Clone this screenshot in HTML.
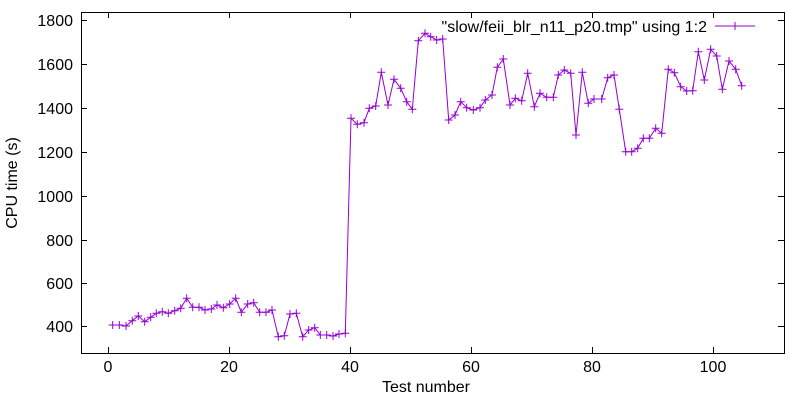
<!DOCTYPE html>
<html><head><meta charset="utf-8"><style>html,body{margin:0;padding:0;background:#fff}svg{display:block}</style></head>
<body>
<svg width="800" height="400" xmlns="http://www.w3.org/2000/svg" font-family="Liberation Sans, sans-serif" font-size="16">
<rect width="800" height="400" fill="#fff"/>
<g stroke="#000" stroke-width="1" fill="none">
<rect x="81.5" y="12.5" width="703" height="341"/>
<path d="M108.5,353v-6M108.5,12v6M229.5,353v-6M229.5,12v6M350.5,353v-6M350.5,12v6M471.5,353v-6M471.5,12v6M592.5,353v-6M592.5,12v6M713.5,353v-6M713.5,12v6"/>
<path d="M81,20.5h6M784,20.5h-6M81,64.5h6M784,64.5h-6M81,108.5h6M784,108.5h-6M81,152.5h6M784,152.5h-6M81,196.5h6M784,196.5h-6M81,240.5h6M784,240.5h-6M81,283.5h6M784,283.5h-6M81,326.5h6M784,326.5h-6"/>
</g>
<g text-anchor="middle" fill="#000">
<text x="108" y="372">0</text><text x="229" y="372">20</text><text x="350" y="372">40</text><text x="471" y="372">60</text><text x="592" y="372">80</text><text x="713" y="372">100</text>
<text x="426" y="392">Test number</text>
</g>
<g text-anchor="end" fill="#000">
<text x="73" y="26">1800</text><text x="73" y="70">1600</text><text x="73" y="114">1400</text><text x="73" y="158">1200</text><text x="73" y="202">1000</text><text x="73" y="246">800</text><text x="73" y="289">600</text><text x="73" y="332">400</text>
<text x="707" y="32">"slow/feii_blr_n11_p20.tmp" using 1:2</text>
</g>
<text transform="translate(17,183) rotate(-90)" text-anchor="middle" fill="#000">CPU time (s)</text>
<g stroke="#9400d3" stroke-width="1" fill="none">
<path d="M715,26h40M735,22v8M731,26h8"/>
<polyline id="d" points="112.7,325 119.3,325 126,326 132.3,320.7 138.3,316 144.7,321.7 150.7,317.3 156.3,313.3 162.3,311.7 168.3,313.3 174.7,310.7 180.7,308.3 186.7,298.3 192.7,307.3 199,307.3 205,310 211.3,309 217,305 223.3,307.7 229.7,304 235.7,298.3 241.3,312.3 247.7,304 253.7,302.7 259.7,312.3 266,312.3 272,310 278.3,336.7 284.3,335.7 290,314 296.3,313.3 302.7,336.7 308.7,330 314.7,327.7 320.3,335 326.7,335 333,336 339,334 345.3,333.3 351,118.3 357.3,124.3 364,122.7 369.3,108.3 375.7,106 381.3,72.3 388,105 394,79.3 400.7,88.3 406.7,101.7 412.3,109.3 418.3,40.7 425,33.3 430.7,36.7 436.7,40 442.7,39 448.7,120 455,115 460.7,101.7 466.7,107.7 473.3,110 480,107.7 485.3,100 492,95 497.3,67.3 503.3,59 510,105 515.3,98.3 521.7,100.7 527.7,73.3 534.3,106.7 540,93.3 546.7,97.3 553.3,97.3 558.3,75 564.3,70 570.7,73.3 576,135 582.3,72.3 588.3,103.3 594,99 601.7,99 607.7,77.7 614,75 619.3,109.3 625.7,151.7 631.7,151.7 637.7,148.3 643.3,138.3 649.3,138.3 655.7,128.3 661.7,133.3 668.3,69.3 674.3,72.7 680.7,86.7 686.7,91 692.7,90.7 698.3,51.7 704.3,80 710.7,49.3 716.7,56 722.3,89.3 729,61 735.7,69.3 741.7,85.7"/>
</g>
<g id="m" stroke="#9400d3" stroke-width="1"></g>
<script>
var p=document.getElementById('d').getAttribute('points').trim().split(/\s+/),s='';
p.forEach(function(q){var a=q.split(',');var x=+a[0],y=+a[1];s+='M'+(x-4)+','+y+'h8M'+x+','+(y-4)+'v8';});
var e=document.createElementNS('http://www.w3.org/2000/svg','path');e.setAttribute('d',s);e.setAttribute('fill','none');
document.getElementById('m').appendChild(e);
</script>
</svg>
</body></html>
